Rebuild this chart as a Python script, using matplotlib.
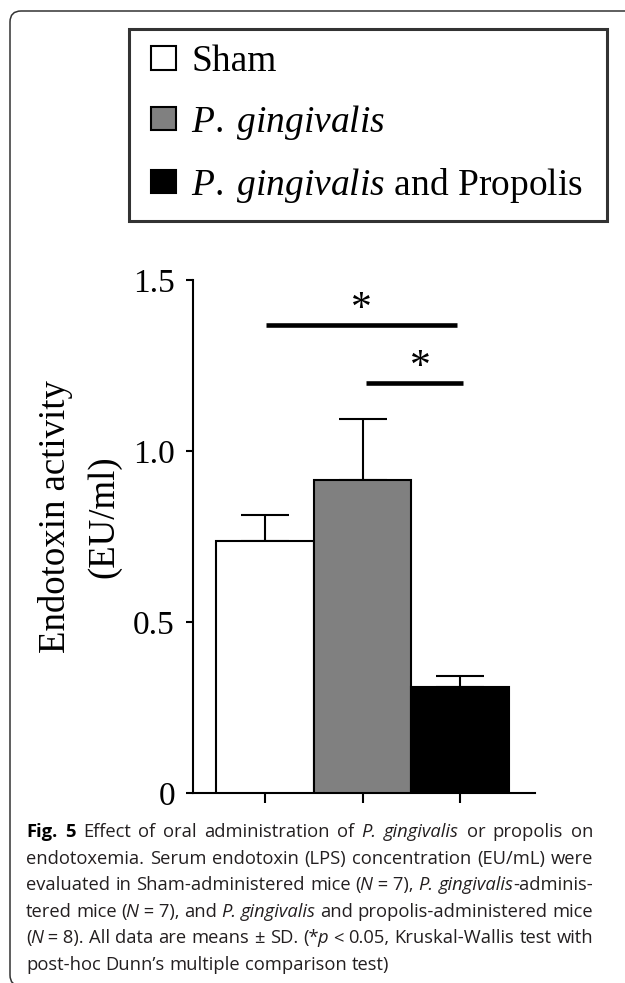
import matplotlib
matplotlib.use("Agg")
import matplotlib.pyplot as plt
from matplotlib.patches import FancyBboxPatch, Patch, Rectangle
from matplotlib.legend_handler import HandlerPatch
import numpy as np

# ---------------- data ----------------
groups = ["Sham", "P. gingivalis", "P. gingivalis and Propolis"]
legend_labels = ["Sham", r"$\mathit{P.\;gingivalis}$",
                 r"$\mathit{P.\;gingivalis}$ and Propolis"]
means = [0.737, 0.914, 0.31]
sds = [0.076, 0.181, 0.032]
bar_colors = ["white", "#808080", "black"]
ytick_vals = [0, 0.5, 1.0, 1.5]
ytick_labels = ["0", "0.5", "1.0", "1.5"]
# significance brackets: (x start, x end, line height, star x)
sig_lines = [(0.01, 1.97, 1.368, 0.99), (1.04, 2.03, 1.199, 1.59)]
sig_text = ["*", "*"]

caption_lines = [
    [[("Fig.", "bold")], [("5", "bold")], [("Effect", "n")], [("of", "n")], [("oral", "n")],
     [("administration", "n")], [("of", "n")], [("P.", "it")], [("gingivalis", "it")],
     [("or", "n")], [("propolis", "n")], [("on", "n")]],
    [[(w, "n")] for w in "endotoxemia. Serum endotoxin (LPS) concentration (EU/mL) were".split()],
    [[("evaluated", "n")], [("in", "n")], [("Sham-administered", "n")], [("mice", "n")],
     [("(", "n"), ("N", "it"), (" = 7),", "n")], [("P.", "it")],
     [("gingivalis", "it"), ("-adminis-", "n")]],
    [[("tered", "n")], [("mice", "n")], [("(", "n"), ("N", "it"), (" = 7),", "n")], [("and", "n")],
     [("P.", "it")], [("gingivalis", "it")], [("and", "n")], [("propolis-administered", "n")],
     [("mice", "n")]],
    [[("(", "n"), ("N", "it"), (" = 8).", "n")], [("All", "n")], [("data", "n")], [("are", "n")],
     [("means", "n")], [("±", "n")], [("SD.", "n")], [("(*", "n"), ("p", "it")], [("<", "n")],
     [("0.05,", "n")], [("Kruskal-Wallis", "n")], [("test", "n")], [("with", "n")]],
    [[(w, "n")] for w in "post-hoc Dunn’s multiple comparison test)".split()],
]

# ---------------- figure ----------------
W, H, DPI = 625, 983, 100
plt.rcParams["mathtext.fontset"] = "custom"
plt.rcParams["mathtext.rm"] = "Liberation Serif"
plt.rcParams["mathtext.it"] = "Liberation Serif:italic"
plt.rcParams["font.family"] = ["Liberation Serif", "DejaVu Serif"]

fig = plt.figure(figsize=(W / DPI, H / DPI), dpi=DPI)
fig.patch.set_facecolor("white")

# outer rounded frame
frame = FancyBboxPatch((10 / DPI, -0.03), 7.0, (H - 11) / DPI + 0.03,
                       boxstyle="round,pad=0,rounding_size=0.11",
                       transform=fig.dpi_scale_trans, fill=False,
                       edgecolor="#333333", linewidth=1.1)
fig.patches.append(frame)

ax = fig.add_axes([193 / W, 1 - 793 / H, (535 - 193) / W, (793 - 280) / H])
x = np.arange(len(groups))
bars = ax.bar(x, means, width=1.0, color=bar_colors, edgecolor="black",
              linewidth=1.5, zorder=3)
ax.errorbar(x, means, yerr=[np.zeros(len(sds)), sds], fmt="none", ecolor="black",
            elinewidth=1.5, capsize=17.5, capthick=1.5, zorder=2)

ax.set_xlim(-0.74, 2.77)
ax.set_ylim(0, 1.5)
ax.set_xticks(x)
ax.set_xticklabels([])
ax.set_yticks(ytick_vals)
ax.set_yticklabels(ytick_labels, fontsize=24)
ax.tick_params(axis="y", length=5, width=1.5, pad=8)
ax.tick_params(axis="x", length=7, width=1.5)
for s in ["top", "right"]:
    ax.spines[s].set_visible(False)
for s in ["left", "bottom"]:
    ax.spines[s].set_linewidth(1.5)

ax.set_ylabel("Endotoxin activity\n(EU/ml)", fontsize=26.5, linespacing=1.5)
ax.yaxis.set_label_coords(-0.21, 0.538)

for (xa, xb, h, xs), t in zip(sig_lines, sig_text):
    ax.plot([xa, xb], [h, h], color="black", linewidth=3.3, solid_capstyle="butt",
            clip_on=False)
    ax.text(xs, h + 0.045, t, ha="center", va="center", fontsize=30)

# legend
LEG_FS = 27
SQ_W, SQ_H = 0.67, 0.62


def square_patch(legend, orig_handle, xdescent, ydescent, width, height, fontsize):
    w = SQ_W * fontsize
    h = SQ_H * fontsize
    return Rectangle((-xdescent + width - w, -ydescent + (height - h) / 2), w, h)


handles = [Patch(facecolor=c, edgecolor="black", linewidth=1.5) for c in bar_colors]
leg = fig.legend(handles, legend_labels, loc="upper left",
                 bbox_to_anchor=(129 / W, 1 - 220 / H, (607 - 129) / W, (220 - 29) / H),
                 mode="expand", borderaxespad=0, fontsize=LEG_FS, frameon=True,
                 fancybox=False, edgecolor="black", handlelength=0.84,
                 handleheight=SQ_H, handletextpad=0.40, labelspacing=0.635,
                 borderpad=0.42,
                 handler_map={Patch: HandlerPatch(patch_func=square_patch)})
leg.get_frame().set_linewidth(2.2)

# caption (justified)
renderer = fig.canvas.get_renderer()
cap_kw = dict(fontsize=13.2, color="#231f20")
fam = ["Open Sans", "DejaVu Sans"]


def style_kw(st):
    if st == "bold":
        return dict(fontweight="bold", color="black")
    if st == "it":
        return dict(fontstyle="italic")
    return {}


def measure(s, st):
    t = fig.text(0, 0, s, family=fam, **{**cap_kw, **style_kw(st)})
    w = t.get_window_extent(renderer).width
    t.remove()
    return w


space_w = measure("a a", "n") - measure("aa", "n")
left_px, right_px = 26, 593
base0, pitch = 837, 26.6
for i, line in enumerate(caption_lines):
    widths = [[measure(s, st) for s, st in word] for word in line]
    # small kerning before an italic run that follows upright text in a word
    adjust = [[(-1.5 if (j + 1 < len(word) and word[j + 1][1] == "it" and st != "it")
                else 0.0)
               for j, (s, st) in enumerate(word)] for word in line]
    widths = [[w + a for w, a in zip(ws, ad)] for ws, ad in zip(widths, adjust)]
    total = sum(sum(w) for w in widths)
    if i < len(caption_lines) - 1 and len(line) > 1:
        gap = (right_px - left_px - total) / (len(line) - 1)
    else:
        gap = space_w
    xp = left_px
    yb = 1 - (base0 + i * pitch) / H
    for word, ws in zip(line, widths):
        for (s, st), w in zip(word, ws):
            fig.text(xp / W, yb, s, family=fam, va="baseline", ha="left",
                     **{**cap_kw, **style_kw(st)})
            xp += w
        xp += gap

fig.savefig("out.png", dpi=DPI, facecolor="white")
